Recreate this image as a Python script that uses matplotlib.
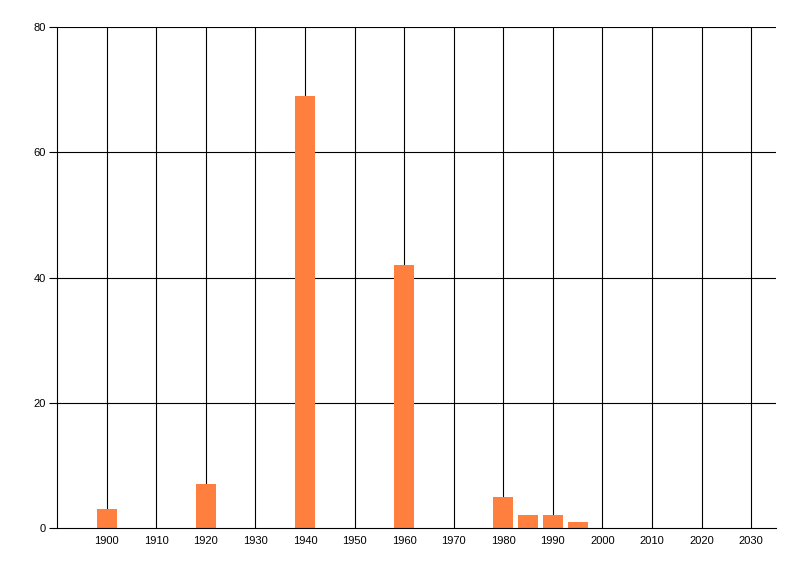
import matplotlib.pyplot as plt

years = [1900, 1920, 1940, 1960, 1980, 1985, 1990, 1995]
counts = [3, 7, 69, 42, 5, 2, 2, 1]
xticks = list(range(1900, 2031, 10))
yticks = [0, 20, 40, 60, 80]

plt.rcParams['font.family'] = ['Liberation Sans', 'DejaVu Sans']

fig = plt.figure(figsize=(8, 5.76), dpi=100)
ax = fig.add_axes([57 / 800, 1 - 528 / 576, (776 - 57) / 800, (528 - 27) / 576])

ax.bar(years, counts, width=4, color='#FF7F3F', zorder=3)

ax.set_xlim(1890, 2035)
ax.set_ylim(0, 80)
ax.set_xticks(xticks)
ax.set_yticks(yticks)
# vertical grid lines each decade, horizontal each 20
for x in xticks:
    ax.axvline(x, color='black', linewidth=0.8, zorder=1)
for y in yticks[1:]:
    ax.axhline(y, color='black', linewidth=0.8, zorder=1)

for side in ['top', 'right']:
    ax.spines[side].set_visible(False)
ax.spines['left'].set_linewidth(0.8)
ax.spines['bottom'].set_linewidth(0.8)
ax.spines['bottom'].set_zorder(4)

ax.tick_params(axis='x', length=0, pad=6, labelsize=8)
ax.tick_params(axis='y', length=6, width=0.8, pad=2, labelsize=8)

fig.savefig('out.png', dpi=100)
